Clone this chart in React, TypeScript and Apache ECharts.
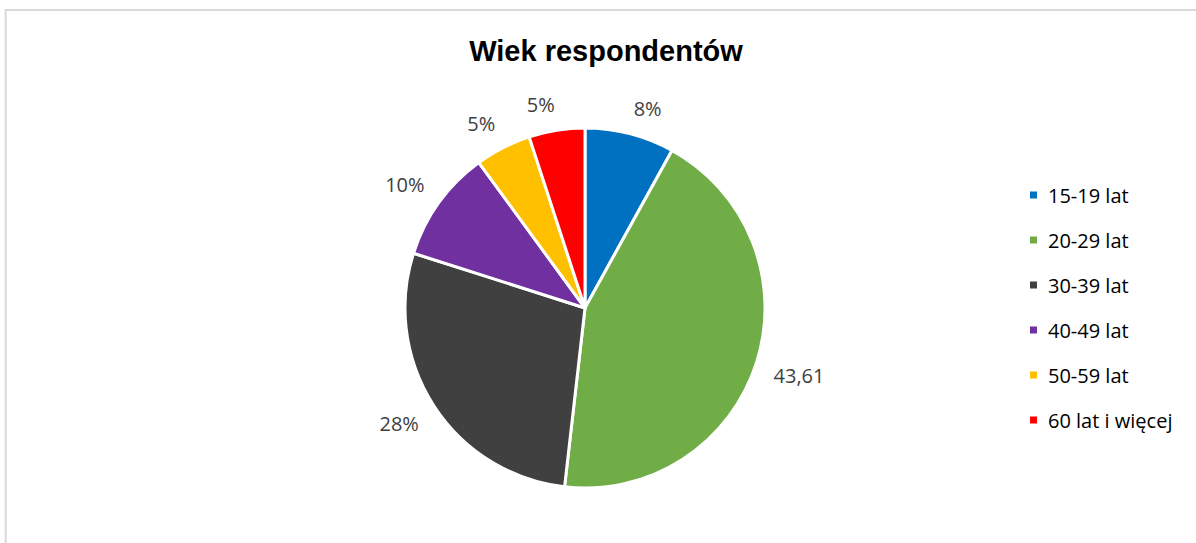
import React, { useEffect, useRef } from "react";
import * as echarts from "echarts";

const categories = ["15-19 lat", "20-29 lat", "30-39 lat", "40-49 lat", "50-59 lat", "60 lat i więcej"];
const values = [8, 43.61, 28, 10, 5, 5];
const valueLabels = ["8%", "43,61", "28%", "10%", "5%", "5%"];
const colors = ["#0070C0", "#70AD47", "#404040", "#7030A0", "#FFC000", "#FF0000"];

const CX = 585;
const CY = 308;
const R = 180;
const LABEL_GAP = 19;

export default function App() {
  const ref = useRef<HTMLDivElement>(null);
  useEffect(() => {
    if (!ref.current) return;
    const chart = echarts.init(ref.current, undefined, { renderer: "svg" });
    const total = values.reduce((a, b) => a + b, 0);
    const midAngles: number[] = [];
    let cum = 0;
    values.forEach((v) => {
      midAngles.push(((cum + v / 2) / total) * Math.PI * 2);
      cum += v;
    });
    chart.setOption({
      animation: false,
      backgroundColor: "#ffffff",
      title: {
        text: "Wiek respondentów",
        left: 601,
        textAlign: "center",
        top: 31,
        textStyle: {
          fontFamily: "Liberation Sans, Arial, sans-serif",
          fontWeight: "bold",
          fontSize: 29,
          color: "#000000",
        },
      },
      graphic: [
        {
          type: "rect",
          shape: { x: 5.7, y: 10, width: 1400, height: 800 },
          style: { fill: "none", stroke: "#d9d9d9", lineWidth: 2 },
          silent: true,
          z: -10,
        },
      ],
      legend: {
        orient: "vertical",
        left: 1023,
        top: 180,
        itemWidth: 9,
        itemHeight: 9,
        itemGap: 25,
        icon: "rect",
        data: categories,
        textStyle: {
          fontFamily: "Open Sans, sans-serif",
          fontSize: 20,
          lineHeight: 20,
          color: "#000000",
          padding: [0, 0, 0, 5],
        },
      },
      series: [
        {
          type: "pie",
          center: [CX, CY],
          radius: R,
          startAngle: 90,
          clockwise: true,
          avoidLabelOverlap: false,
          itemStyle: { borderColor: "#ffffff", borderWidth: 3 },
          label: {
            show: true,
            position: "outside",
            formatter: (p: any) => valueLabels[p.dataIndex],
            fontFamily: "Open Sans, sans-serif",
            fontSize: 20,
            color: "#404040",
          },
          labelLine: { show: false, length: 24, length2: 0 },
          labelLayout: (params: any) => {
            const a = midAngles[params.dataIndex];
            const ux = Math.sin(a);
            const uy = -Math.cos(a);
            const w = params.labelRect ? params.labelRect.width : 30;
            const d = R + LABEL_GAP;
            const px = CX + ux * d;
            const py = CY + uy * d;
            return {
              x: px + Math.sign(ux) * (w / 2 - 1),
              y: py + Math.sign(uy) * 7,
              align: "center",
              verticalAlign: "middle",
            };
          },
          emphasis: { disabled: true },
          data: categories.map((c, i) => ({ name: c, value: values[i], itemStyle: { color: colors[i] } })),
        },
      ],
    });
    return () => chart.dispose();
  }, []);
  return (
    <div
      ref={ref}
      style={{ position: "fixed", left: 0, top: 0, width: 1196, height: 543 }}
    />
  );
}
